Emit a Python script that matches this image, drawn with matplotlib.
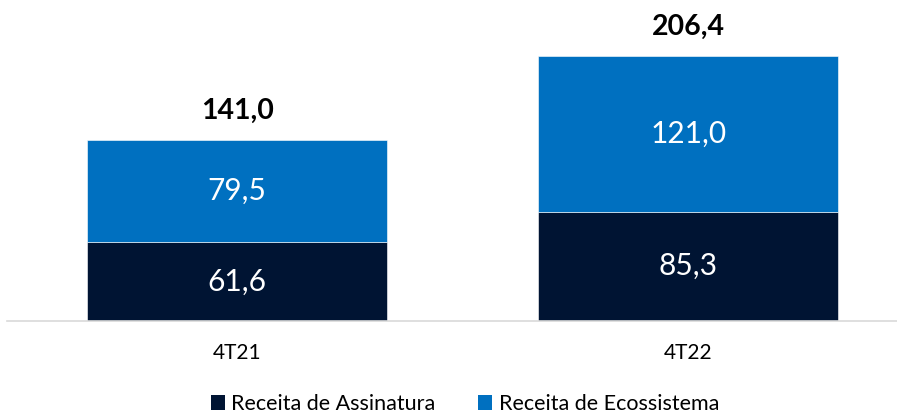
import numpy as np
import matplotlib.pyplot as plt
from matplotlib.patches import Patch

plt.rcParams['font.family'] = ['Lato', 'DejaVu Sans']

# Dados
periodos = ["4T21", "4T22"]
assinatura = [61.6, 85.3]
ecossistema = [79.5, 121.0]
totais = [141.0, 206.4]
series_nomes = ["Receita de Assinatura", "Receita de Ecossistema"]

COR_ASSIN = "#001433"
COR_ECO = "#0070C0"


def fmt(v):
    return f"{v:.1f}".replace(".", ",")


fig = plt.figure(figsize=(8.97, 4.15), dpi=100)
ax = fig.add_axes([7 / 897, 94 / 415, 890 / 897, 321 / 415])

x = np.arange(len(periodos))
largura = 0.665

b1 = ax.bar(x, assinatura, largura, color=COR_ASSIN, edgecolor="white", linewidth=0.4)
b2 = ax.bar(x, ecossistema, largura, bottom=assinatura, color=COR_ECO,
            edgecolor="white", linewidth=0.4)

for i in range(len(periodos)):
    ax.text(x[i], assinatura[i] / 2, fmt(assinatura[i]), ha="center", va="center",
            color="white", fontsize=21.5)
    ax.text(x[i], assinatura[i] + ecossistema[i] / 2, fmt(ecossistema[i]),
            ha="center", va="center", color="white", fontsize=21.5)
    ax.annotate(fmt(totais[i]), (x[i], assinatura[i] + ecossistema[i]),
                xytext=(0, 21), textcoords="offset points",
                ha="center", va="center", fontsize=20.5, fontweight="bold", color="black")

ax.set_xlim(-0.51, 1.463)
ax.set_ylim(0, 250.2)

ax.set_xticks(x)
ax.set_xticklabels(periodos, fontsize=15)
ax.tick_params(axis="x", length=0, pad=16)
ax.set_yticks([])
for s in ["top", "left", "right"]:
    ax.spines[s].set_visible(False)
ax.spines["bottom"].set_color("#d9d9d9")
ax.spines["bottom"].set_linewidth(1.2)

handles = [Patch(facecolor=COR_ASSIN), Patch(facecolor=COR_ECO)]
fig.legend(handles, series_nomes, loc="center", bbox_to_anchor=(465 / 897, 11 / 415),
           ncol=2, frameon=False, fontsize=15.5, handlelength=0.65, handleheight=0.65,
           handletextpad=0.3, columnspacing=2.0, borderpad=0, borderaxespad=0)

fig.savefig("out.png", dpi=100)
